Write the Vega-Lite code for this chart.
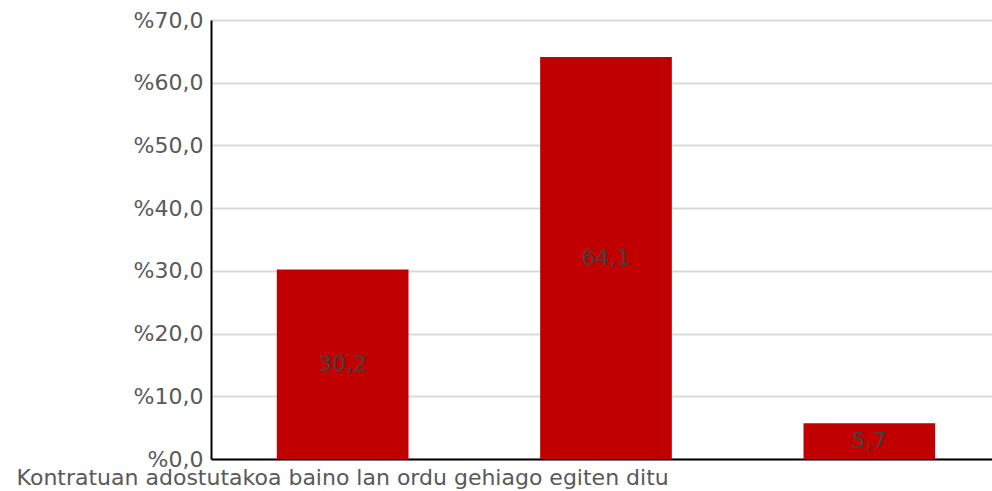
{
  "$schema": "https://vega.github.io/schema/vega-lite/v6.json",
  "autosize": "none",
  "padding": {"left": 211, "top": 20, "right": 0, "bottom": 32},
  "width": 790,
  "height": 439,
  "background": "white",
  "config": {
    "view": {"stroke": null},
    "font": "DejaVu Sans",
    "locale": {"number": {"decimal": ",", "thousands": ".", "grouping": [3], "currency": ["", " €"]}}
  },
  "data": {
    "values": [
      {"kategoria": "Kontratuan adostutakoa baino lan ordu gehiago egiten ditu", "ehunekoa": 30.2},
      {"kategoria": "Kontratuan adostutakoa bezainbeste lan ordu egiten ditu", "ehunekoa": 64.1},
      {"kategoria": "Kontratuan adostutakoa baino lan ordu gutxiago egiten ditu", "ehunekoa": 5.7}
    ]
  },
  "encoding": {
    "x": {
      "field": "kategoria",
      "type": "nominal",
      "sort": null,
      "scale": {"paddingInner": 0.5, "paddingOuter": 0.25},
      "axis": {
        "title": null,
        "labelAngle": 0,
        "labelExpr": "datum.index == 0 ? datum.label : ''",
        "labelLimit": 0,
        "labelFontSize": 22,
        "labelColor": "#595959",
        "labelPadding": 8,
        "ticks": false,
        "domainColor": "#000000",
        "domainWidth": 2
      }
    }
  },
  "layer": [
    {
      "mark": {"type": "bar", "color": "#c00000"},
      "encoding": {
        "y": {
          "field": "ehunekoa",
          "type": "quantitative",
          "scale": {"domain": [0, 70]},
          "axis": {
            "title": null,
            "values": [0, 10, 20, 30, 40, 50, 60, 70],
            "format": ".1f",
            "labelExpr": "'%' + datum.label",
            "labelFontSize": 22,
            "labelColor": "#595959",
            "labelPadding": 8,
            "ticks": false,
            "domainColor": "#000000",
            "domainWidth": 2,
            "gridColor": "#d9d9d9",
            "gridWidth": 2
          }
        }
      }
    },
    {
      "mark": {"type": "text", "color": "#404040", "fontSize": 22, "baseline": "middle"},
      "encoding": {
        "y": {
          "field": "ehunekoa",
          "type": "quantitative",
          "scale": {"domain": [0, 140]},
          "axis": null
        },
        "text": {"field": "ehunekoa", "type": "quantitative", "format": ".1f"}
      }
    }
  ],
  "resolve": {"scale": {"y": "independent"}}
}
